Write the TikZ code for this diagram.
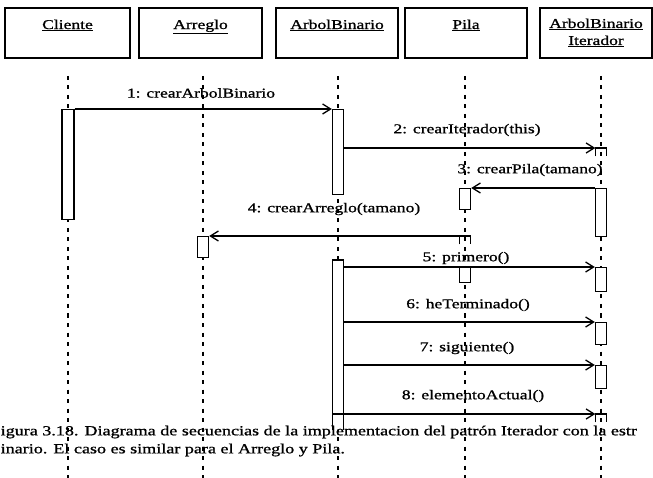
\documentclass[tikz,border=0pt]{standalone}
\usepackage{fontspec}
\setmainfont{Liberation Serif}[FakeStretch=1.3,FakeBold=1]
\usetikzlibrary{arrows.meta}
\begin{document}
\begin{tikzpicture}[x=1pt,y=-1pt,
  every node/.style={font=\fontsize{13.5}{17}\selectfont, inner sep=0pt},
  objbox/.style={draw, line width=1.7pt, minimum height=50pt, align=center, anchor=north},
  lifeline/.style={line width=1.3pt, dash pattern=on 4pt off 5.5pt},
  act/.style={draw, fill=white, line width=1.4pt, minimum width=11pt, anchor=north},
  ghost/.style={minimum width=11pt, anchor=north},
  actline/.style={line width=1.4pt},
  msg/.style={line width=1.3pt, -{Straight Barb[length=8pt,width=10pt,line width=1.3pt]}},
  lbl/.style={anchor=center},
  captext/.style={anchor=west, font=\fontsize{13.9}{18}\selectfont}]
\useasboundingbox[fill=white] (0,0) rectangle (653,478);

% object boxes
\node[objbox, minimum width=125pt] (cliente) at (67.5,7) {\underline{Cliente}\\\mbox{}};
\node[objbox, minimum width=123pt] (arreglo) at (200.5,7) {\underline{Arreglo}\\\mbox{}};
\node[objbox, minimum width=122pt] (arbol) at (337,7) {\underline{ArbolBinario}\\\mbox{}};
\node[objbox, minimum width=122pt] (pila) at (466,7) {\underline{Pila}\\\mbox{}};
\node[objbox, minimum width=112pt] (iter) at (596,7) {\underline{ArbolBinario}\\\underline{Iterador}};

% lifeline ends
\coordinate (tC) at (68,76);  \coordinate (bC) at (68,478);
\coordinate (tR) at (203,76); \coordinate (bR) at (203,478);
\coordinate (tA) at (338,76); \coordinate (bA) at (338,478);
\coordinate (tP) at (465,76); \coordinate (bP) at (465,478);
\coordinate (tI) at (601,76); \coordinate (bI) at (601,478);
\draw[lifeline] (tC) -- (bC);
\draw[lifeline] (tR) -- (bR);
\draw[lifeline] (tA) -- (bA);
\draw[lifeline] (tP) -- (bP);
\draw[lifeline] (tI) -- (bI);

% activation bars
\node[act, minimum width=12pt, minimum height=110pt] (c1) at (68,109) {};
\node[act, minimum height=85pt] (a1) at (338,109) {};
\node[act, minimum height=48pt] (i3) at (601,188) {};
\node[act, minimum height=21pt] (p3) at (465,188) {};
\node[act, minimum height=21pt] (r4) at (203,236) {};
\node[act, minimum height=15pt] (p5) at (465,267) {};
\node[act, minimum height=24pt] (i5) at (601,267) {};
\node[act, minimum height=22pt] (i6) at (601,322) {};
\node[act, minimum height=23pt] (i7) at (601,365) {};

% open-ended bars
\node[ghost, minimum height=8pt] (s2) at (601,148) {};
\node[ghost, minimum height=8pt] (s4) at (465,236) {};
\node[ghost, minimum height=8pt] (s8) at (601,414) {};
\node[ghost, minimum height=170pt] (a2) at (338,260) {};
\fill[white] (a2.south west) rectangle (a2.north east);
\foreach \s in {s2,s4,s8,a2}
  \draw[actline] (\s.south west) -- (\s.north west) -- (\s.north east) -- (\s.south east);

% messages
\draw[msg] (c1.north east) -- (a1.north west);
\draw[msg] (a1.east |- s2.north) -- (s2.north west);
\draw[msg] (i3.north west) -- (p3.north east);
\draw[msg] (s4.north east) -- (r4.north east);
\draw[msg] (a2.east |- i5.north) -- (i5.north west);
\draw[msg] (a2.east |- i6.north) -- (i6.north west);
\draw[msg] (a2.east |- i7.north) -- (i7.north west);
\draw[actline] (a2.west |- s8.north) -- (a2.east |- s8.north);
\draw[msg] (a2.east |- s8.north) -- (s8.north west);

% message labels
\node[lbl] (t1) at (201,93) {1: crearArbolBinario};
\node[lbl] (t2) at (467,130) {2: crearIterador(this)};
\node[lbl] (t3) at (530,170) {3: crearPila(tamano)};
\node[lbl] (t4) at (334,209) {4: crearArreglo(tamano)};
\node[lbl] (t5) at (466,258) {5: primero()};
\node[lbl] (t6) at (468,305) {6: heTerminado()};
\node[lbl] (t7) at (467,348) {7: siguiente()};
\node[lbl] (t8) at (473,396) {8: elementoActual()};

% caption
\node[captext] (cap1) at (0.5,432) {igura 3.18. Diagrama de secuencias de la implementacion del patrón Iterador con la estr};
\node[captext] (cap2) at (0.5,450) {inario. El caso es similar para el Arreglo y Pila.};
\end{tikzpicture}
\end{document}
